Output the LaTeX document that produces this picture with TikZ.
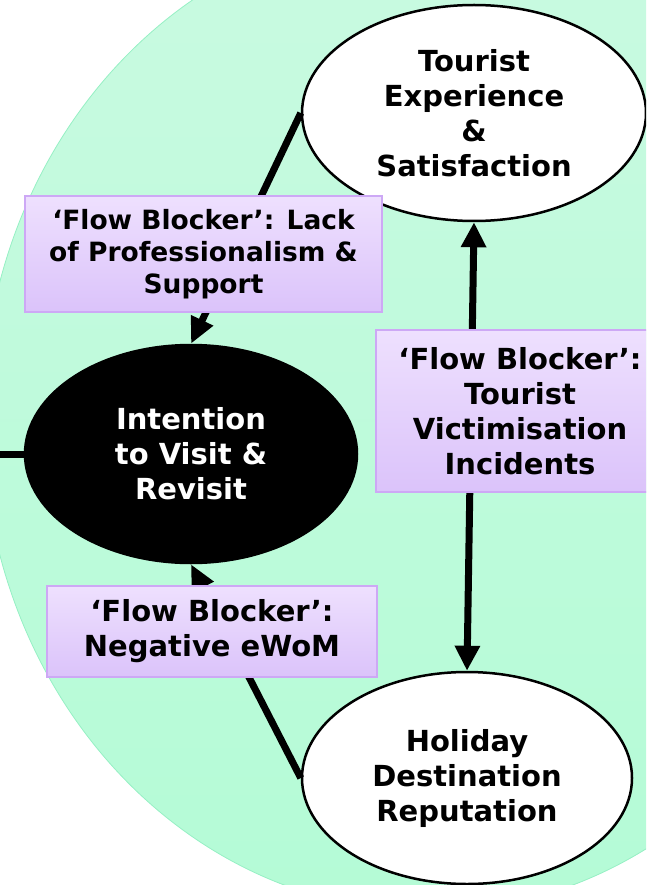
\documentclass[tikz,border=0pt]{standalone}
\usepackage{fontspec}
\setmainfont{DejaVu Sans}
\usetikzlibrary{shapes.geometric,arrows.meta}

\definecolor{fieldtop}{RGB}{201,250,225}
\definecolor{fieldbot}{RGB}{180,251,214}
\definecolor{fieldedge}{RGB}{150,240,196}
\definecolor{blockertop}{RGB}{238,224,254}
\definecolor{blockerbot}{RGB}{219,195,250}
\definecolor{blockeredge}{RGB}{205,168,245}

\begin{document}
\begin{tikzpicture}[x=1pt,y=-1pt,
  bigtext/.style={font=\fontsize{29}{35}\selectfont\bfseries},
  smalltext/.style={font=\fontsize{26.5}{32}\selectfont\bfseries},
  construct/.style={ellipse, draw=black, line width=2.5pt, fill=white,
    inner sep=0pt, align=center, bigtext},
  outcome/.style={construct, fill=black, text=white},
  blocker/.style={rectangle, draw=blockeredge, line width=1.2pt,
    top color=blockertop, bottom color=blockerbot,
    inner sep=0pt, align=center, bigtext},
  flow/.style={line width=7pt, -{Triangle[length=26pt,width=23pt]}},
  twoway/.style={line width=7pt,
    {Triangle[length=25pt,width=24pt]}-{Triangle[length=25pt,width=24pt]}},
  plain/.style={line width=7pt}
]
\useasboundingbox (0,0) rectangle (646,885);
\clip (0,0) rectangle (646,885);

% pale green field behind the cycle
\shade[top color=fieldtop, bottom color=fieldbot]
  (428.5,418.4) ellipse [x radius=446pt, y radius=493pt];
\draw[fieldedge, line width=0.8pt]
  (428.5,418.4) ellipse [x radius=446pt, y radius=493pt];

% constructs
\node[construct, minimum width=344pt, minimum height=216pt] (exp) at (474,113)
  {Tourist\\Experience\\\&\\Satisfaction};
\node[outcome, minimum width=332pt, minimum height=218pt] (int) at (191,454)
  {Intention\\to Visit \&\\Revisit};
\node[construct, minimum width=330pt, minimum height=212pt] (rep) at (467,778)
  {Holiday\\Destination\\Reputation};

\coordinate (in) at (-10,454);

% connectors
\draw[plain] (in) -- (int.west);
\draw[flow] (exp.west) -- (int.north);
\draw[flow] (rep.west) -- (int.south);
\draw[twoway] (exp.south) -- (rep.north);

% flow blockers
\node[blocker, smalltext, minimum width=357pt, minimum height=116pt] (b1) at (203.5,254)
  {‘Flow Blocker’: Lack\\of Professionalism \&\\Support};
\node[blocker, minimum width=288pt, minimum height=162pt] (b2) at (520,411)
  {‘Flow Blocker’:\\Tourist\\Victimisation\\Incidents};
\node[blocker, minimum width=330pt, minimum height=91pt] (b3) at (212,631.5)
  {‘Flow Blocker’:\\Negative eWoM};
\end{tikzpicture}
\end{document}
